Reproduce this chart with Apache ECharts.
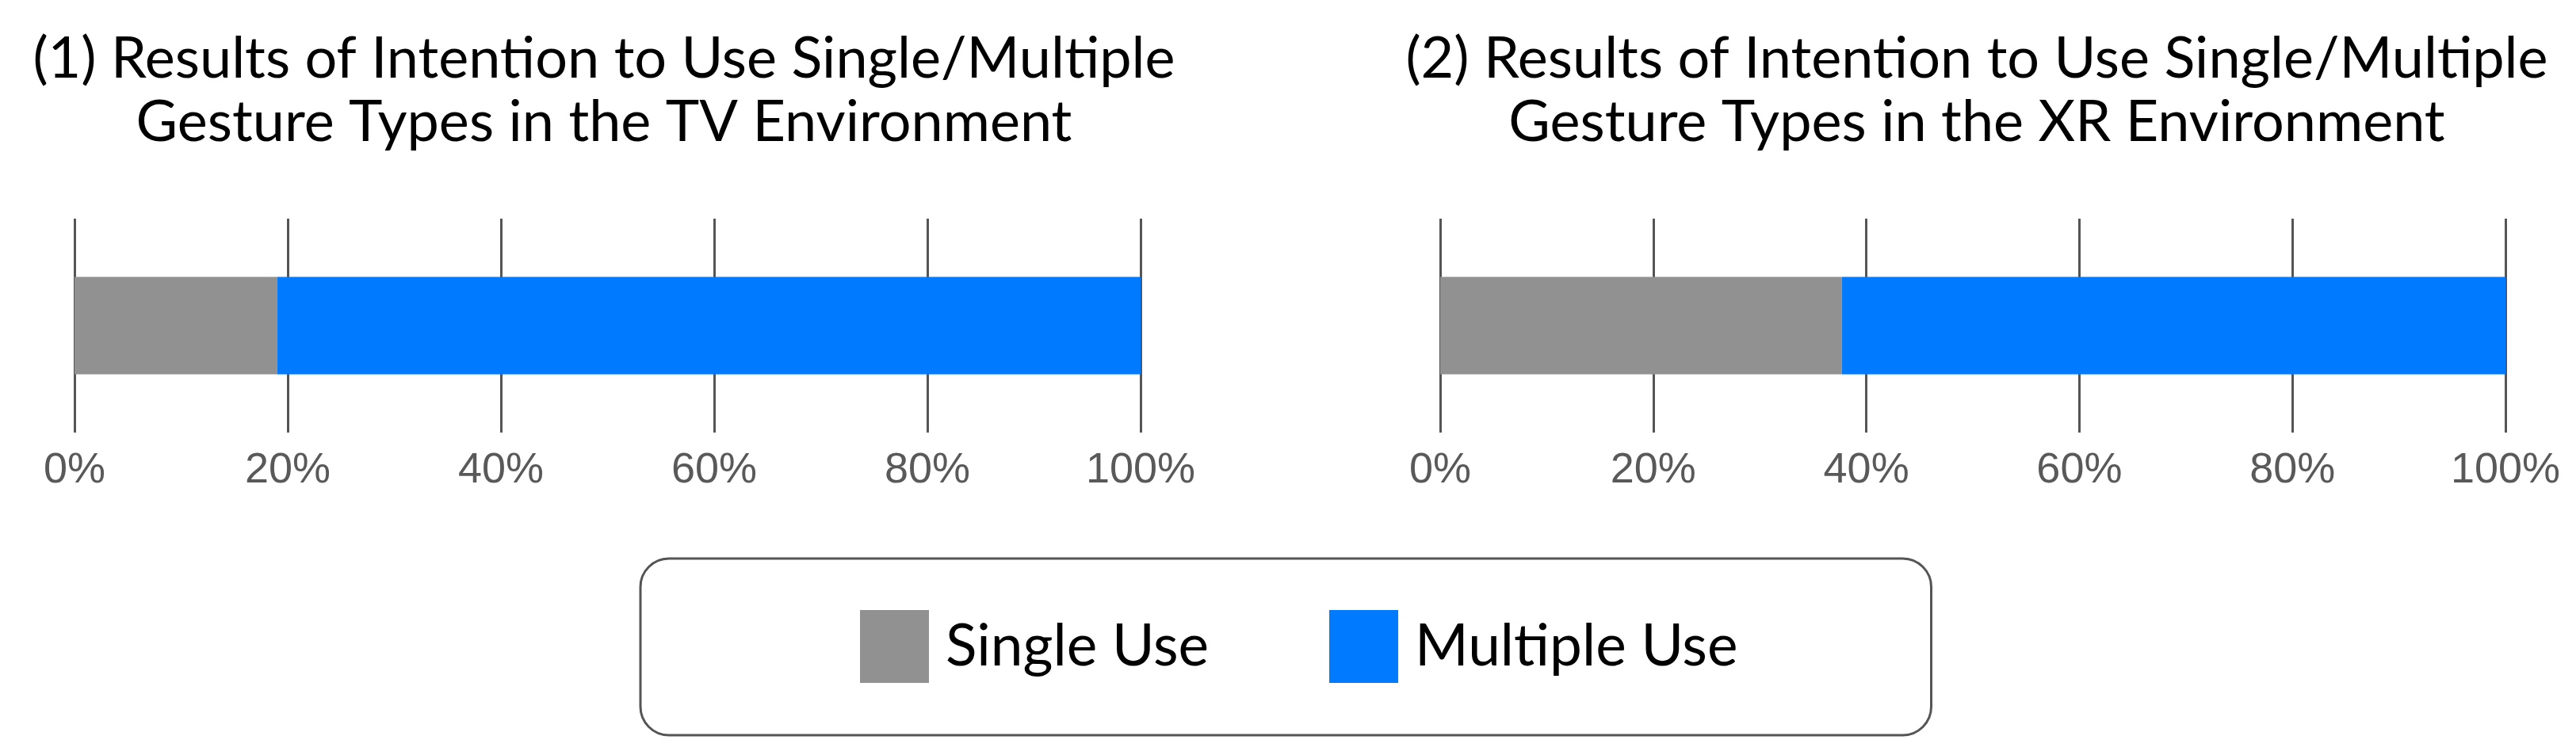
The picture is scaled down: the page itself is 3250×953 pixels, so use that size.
<!DOCTYPE html>
<html lang="en">
<head>
    <meta charset="UTF-8">
    <title>Single/Multiple Gesture Types</title>
    <style type="text/css">
        html, body { margin: 0; padding: 0; background: #fff; }
        #gestureChart { width: 3250px; height: 953px; }
    </style>
</head>
<body>
<div id="gestureChart"></div>
<script src="https://cdn.jsdelivr.net/npm/echarts@6/dist/echarts.min.js"></script>
<script type="text/javascript">
    // data
    var seriesNames = ['Single Use', 'Multiple Use'];
    var tvValues = [19, 81];      // TV environment, %
    var xrValues = [37.7, 62.3];  // XR environment, %
    var tickValues = [0, 20, 40, 60, 80, 100];
    var panelTitles = [
        '(1) Results of Intention to Use Single/Multiple\nGesture Types in the TV Environment',
        '(2) Results of Intention to Use Single/Multiple\nGesture Types in the XR Environment'
    ];
    var colors = ['#919191', '#007AFF'];

    var chart = echarts.init(document.getElementById('gestureChart'));

    var titleFont = 'Lato, "Open Sans", sans-serif';

    function makeXAxis(gridIndex) {
        return {
            type: 'value',
            gridIndex: gridIndex,
            min: tickValues[0],
            max: tickValues[tickValues.length - 1],
            interval: 20,
            axisLine: { show: false },
            axisTick: { show: false },
            splitLine: { show: true, lineStyle: { color: '#555', width: 3 } },
            axisLabel: {
                formatter: '{value}%',
                fontSize: 54,
                color: '#595959',
                fontFamily: '"Liberation Sans", Arial, sans-serif',
                margin: 21
            }
        };
    }

    function makeYAxis(gridIndex) {
        return {
            type: 'category',
            gridIndex: gridIndex,
            data: ['all'],
            show: false
        };
    }

    function makeSeries(values, idx) {
        return seriesNames.map(function (name, i) {
            return {
                name: name,
                type: 'bar',
                stack: 'env' + idx,
                xAxisIndex: idx,
                yAxisIndex: idx,
                barWidth: 123,
                itemStyle: { color: colors[i] },
                data: [values[i]]
            };
        });
    }

    var titleStyle = { fontFamily: titleFont, fontSize: 72, fontWeight: 'normal', color: '#000', lineHeight: 80 };

    var option = {
        animation: false,
        title: [
            { text: panelTitles[0], left: 757, top: 30, textAlign: 'center', textStyle: titleStyle },
            { text: panelTitles[1], left: 2489, top: 30, textAlign: 'center', textStyle: titleStyle }
        ],
        legend: {
            data: seriesNames,
            left: 808,
            top: 705,
            icon: 'rect',
            itemWidth: 87,
            itemHeight: 92,
            itemGap: 152,
            padding: [65, 244, 66, 277],
            borderColor: '#555',
            borderWidth: 3,
            borderRadius: 36,
            textStyle: {
                fontFamily: titleFont,
                fontSize: 73,
                color: '#000',
                padding: [0, 0, 0, 16]
            }
        },
        grid: [
            { left: 94, width: 1345, top: 276, height: 270 },
            { left: 1817, width: 1344, top: 276, height: 270 }
        ],
        xAxis: [makeXAxis(0), makeXAxis(1)],
        yAxis: [makeYAxis(0), makeYAxis(1)],
        series: makeSeries(tvValues, 0).concat(makeSeries(xrValues, 1))
    };

    chart.setOption(option);
</script>
</body>
</html>
